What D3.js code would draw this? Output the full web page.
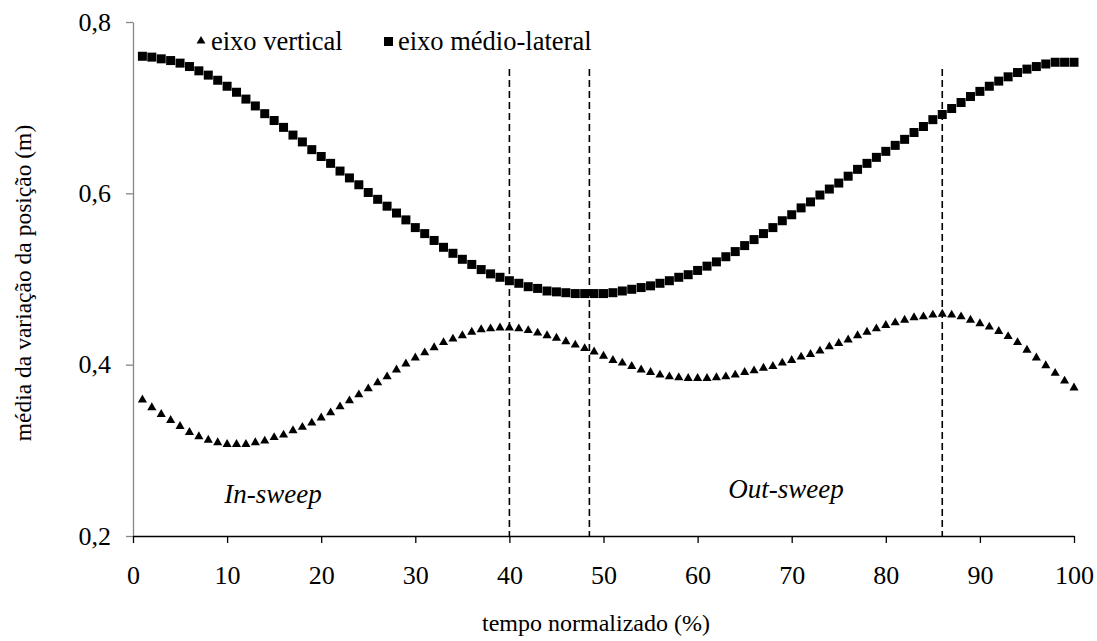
<!DOCTYPE html>
<html>
<head>
<meta charset="utf-8">
<script src="https://cdn.jsdelivr.net/npm/d3@7"></script>
<style>
  html, body { margin: 0; padding: 0; background: #fff; }
  svg text { font-family: "Liberation Serif", "Times New Roman", serif !important; }
</style>
</head>
<body>
<svg id="chart" width="1097" height="641"></svg>
<script>
// Normalised time (% of the stroke cycle)
const tempo = d3.range(1, 101);

// Mean position change, vertical axis (m)
const eixoVertical = [
  0.359, 0.350, 0.342, 0.335, 0.328, 0.321, 0.316, 0.312, 0.309, 0.307,
  0.307, 0.307, 0.309, 0.311, 0.315, 0.318, 0.323, 0.327, 0.332, 0.338,
  0.344, 0.351, 0.358, 0.365, 0.372, 0.379, 0.386, 0.394, 0.401, 0.408,
  0.414, 0.420, 0.426, 0.430, 0.434, 0.438, 0.441, 0.442, 0.443, 0.443,
  0.442, 0.440, 0.437, 0.434, 0.431, 0.427, 0.423, 0.419, 0.415, 0.410,
  0.405, 0.402, 0.398, 0.394, 0.391, 0.388, 0.386, 0.385, 0.384, 0.384,
  0.384, 0.385, 0.386, 0.388, 0.391, 0.393, 0.396, 0.398, 0.402, 0.405,
  0.409, 0.412, 0.416, 0.421, 0.425, 0.429, 0.434, 0.438, 0.442, 0.446,
  0.449, 0.452, 0.455, 0.456, 0.458, 0.459, 0.458, 0.456, 0.452, 0.448,
  0.444, 0.439, 0.433, 0.426, 0.417, 0.408, 0.399, 0.390, 0.381, 0.373
];

// Mean position change, medio-lateral axis (m)
const eixoMedioLateral = [
  0.760, 0.759, 0.757, 0.755, 0.752, 0.748, 0.743, 0.738, 0.732, 0.725,
  0.718, 0.710, 0.702, 0.693, 0.685, 0.677, 0.668, 0.660, 0.651, 0.643,
  0.635, 0.626, 0.618, 0.610, 0.601, 0.593, 0.585, 0.577, 0.569, 0.560,
  0.553, 0.545, 0.537, 0.530, 0.523, 0.517, 0.511, 0.506, 0.502, 0.498,
  0.495, 0.491, 0.489, 0.486, 0.485, 0.484, 0.483, 0.483, 0.483, 0.483,
  0.484, 0.486, 0.488, 0.490, 0.492, 0.495, 0.498, 0.502, 0.505, 0.510,
  0.515, 0.520, 0.526, 0.532, 0.539, 0.546, 0.553, 0.560, 0.568, 0.575,
  0.583, 0.590, 0.598, 0.605, 0.612, 0.620, 0.628, 0.635, 0.642, 0.649,
  0.656, 0.663, 0.671, 0.678, 0.686, 0.692, 0.699, 0.706, 0.713, 0.719,
  0.725, 0.731, 0.736, 0.741, 0.745, 0.748, 0.751, 0.753, 0.753, 0.753
];

// Phase boundaries (% of cycle)
const fases = [40, 48.5, 86];

// Axis ticks
const xTicks = d3.range(0, 101, 10);
const yTicks = [0.2, 0.4, 0.6, 0.8];

const FONT = "'Liberation Serif', 'Times New Roman', serif";
const svg = d3.select("#chart").attr("font-family", FONT);
const margin = { left: 133, right: 23, top: 22, bottom: 105 };
const W = 1097, H = 641;

const x = d3.scaleLinear().domain([0, 100]).range([margin.left, W - margin.right]);
const y = d3.scaleLinear().domain([0.2, 0.8]).range([H - margin.bottom, margin.top]);

const fmt = d => d3.format(".1f")(d).replace(".", ",");

// Y axis (grey line)
const yAxis = svg.append("g")
  .attr("transform", `translate(${x(0)},0)`)
  .call(d3.axisLeft(y).tickValues(yTicks).tickFormat(fmt).tickSize(7).tickSizeOuter(0))
  .attr("font-family", FONT);
yAxis.select(".domain").attr("stroke", "#868686").attr("stroke-width", 1.3);
yAxis.selectAll(".tick line").attr("stroke", "#868686").attr("stroke-width", 1.3);
yAxis.selectAll(".tick text")
  .attr("x", -22)
  .attr("font-size", 26)
  .attr("fill", "#000");

// X axis
const xAxis = svg.append("g")
  .attr("transform", `translate(0,${y(0.2)})`)
  .call(d3.axisBottom(x).tickValues(xTicks).tickFormat(d3.format("d")).tickSize(7).tickSizeOuter(0))
  .attr("font-family", FONT);
xAxis.select(".domain").attr("stroke", "#000").attr("stroke-width", 1.3);
xAxis.selectAll(".tick line").attr("stroke", "#000").attr("stroke-width", 1.3);
xAxis.selectAll(".tick text")
  .attr("y", 30)
  .attr("font-size", 26)
  .attr("fill", "#000");

// Phase boundary lines
svg.append("g").selectAll("line")
  .data(fases)
  .join("line")
  .attr("x1", d => x(d)).attr("x2", d => x(d))
  .attr("y1", y(0.745)).attr("y2", y(0.2))
  .attr("stroke", "#000")
  .attr("stroke-width", 1.6)
  .attr("stroke-dasharray", "7,4");

// Medio-lateral series: squares
const sq = 9;
svg.append("g").selectAll("rect")
  .data(tempo.map((t, i) => [t, eixoMedioLateral[i]]))
  .join("rect")
  .attr("x", d => x(d[0]) - sq / 2)
  .attr("y", d => y(d[1]) - sq / 2)
  .attr("width", sq).attr("height", sq)
  .attr("fill", "#000");

// Vertical series: triangles
const tri = d3.symbol().type(d3.symbolTriangle).size(36);
svg.append("g").selectAll("path")
  .data(tempo.map((t, i) => [t, eixoVertical[i]]))
  .join("path")
  .attr("d", tri)
  .attr("transform", d => `translate(${x(d[0])},${y(d[1])})`)
  .attr("fill", "#000");

// Legend
const leg = svg.append("g");
leg.append("path")
  .attr("d", d3.symbol().type(d3.symbolTriangle).size(34))
  .attr("transform", "translate(201,41)");
leg.append("text").attr("x", 211).attr("y", 50)
  .attr("font-size", 26.5).text("eixo vertical");
leg.append("rect").attr("x", 384).attr("y", 37).attr("width", 9).attr("height", 9);
leg.append("text").attr("x", 398).attr("y", 50)
  .attr("font-size", 26.5).text("eixo médio-lateral");

// Phase annotations
svg.append("text").attr("x", 273).attr("y", 503)
  .attr("text-anchor", "middle").attr("font-style", "italic").attr("font-size", 27)
  .text("In-sweep");
svg.append("text").attr("x", 786).attr("y", 498)
  .attr("text-anchor", "middle").attr("font-style", "italic").attr("font-size", 27)
  .text("Out-sweep");

// Axis titles
svg.append("text")
  .attr("x", 596).attr("y", 631)
  .attr("text-anchor", "middle").attr("font-size", 24)
  .text("tempo normalizado (%)");
svg.append("text")
  .attr("transform", `translate(31,283) rotate(-90)`)
  .attr("text-anchor", "middle").attr("font-size", 23.5)
  .text("média da variação da posição (m)");
</script>
</body>
</html>
